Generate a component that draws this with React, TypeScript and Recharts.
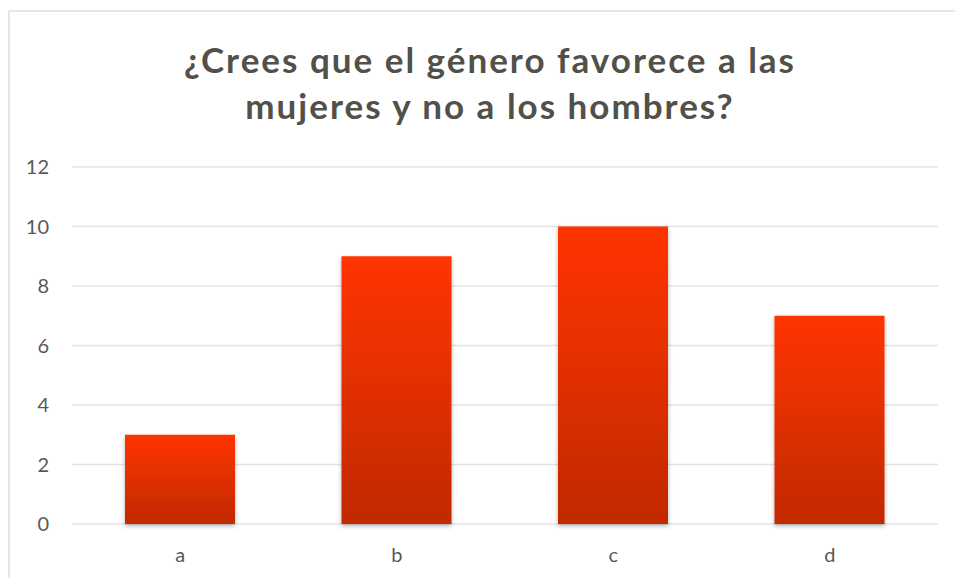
import React from 'react';
import { BarChart, Bar, XAxis, YAxis, CartesianGrid } from 'recharts';

const categories = ['a', 'b', 'c', 'd'];
const answers = [3, 9, 10, 7];
const yTicks = [0, 2, 4, 6, 8, 10, 12];

const TEXT = '#595959';
const GRID = '#e3e3e3';

const data = categories.map((name, i) => ({ name, value: answers[i] }));

export default function App() {
  return (
    <div
      style={{
        position: 'absolute',
        left: 8,
        top: 10,
        width: 947,
        height: 568,
        overflow: 'hidden',
        borderTop: '2px solid #e6e6e6',
        borderLeft: '2px solid #e6e6e6',
        boxSizing: 'border-box',
        background: '#fff',
        fontFamily: 'Lato, sans-serif',
      }}
    >
      {/* title */}
      <div
        style={{
          position: 'absolute',
          left: 0,
          width: 960,
          top: 24,
          textAlign: 'center',
          fontWeight: 700,
          fontSize: 35,
          letterSpacing: 2,
          lineHeight: '46px',
          color: '#515049',
        }}
      >
        ¿Crees que el género favorece a las
        <br />
        mujeres y no a los hombres?
      </div>
      <div style={{ position: 'absolute', left: -2, top: -2 }}>
        <BarChart
          width={947}
          height={568}
          data={data}
          margin={{ top: 157, right: 17, bottom: 24, left: 0 }}
        >
          <defs>
            <linearGradient id="barFill" x1="0" y1="0" x2="0" y2="1">
              <stop offset="0%" stopColor="#ff3400" />
              <stop offset="100%" stopColor="#c12a00" />
            </linearGradient>
            <filter id="barShadow" x="-10%" y="-10%" width="120%" height="120%">
              <feDropShadow dx="0" dy="2" stdDeviation="2" floodColor="#000" floodOpacity="0.3" />
            </filter>
          </defs>
          <CartesianGrid vertical={false} stroke={GRID} strokeWidth={1.5} />
          <XAxis
            dataKey="name"
            height={30}
            axisLine={false}
            tickLine={false}
            tickSize={0}
            tickMargin={24}
            tick={{ fill: TEXT, fontSize: 20 }}
          />
          <YAxis
            width={64}
            domain={[0, 12]}
            ticks={yTicks}
            axisLine={false}
            tickLine={false}
            tickSize={0}
            tickMargin={23}
            tick={{ fill: TEXT, fontSize: 20 }}
          />
          <Bar
            dataKey="value"
            fill="url(#barFill)"
            barSize={110}
            filter="url(#barShadow)"
            isAnimationActive={false}
          />
        </BarChart>
      </div>
    </div>
  );
}
